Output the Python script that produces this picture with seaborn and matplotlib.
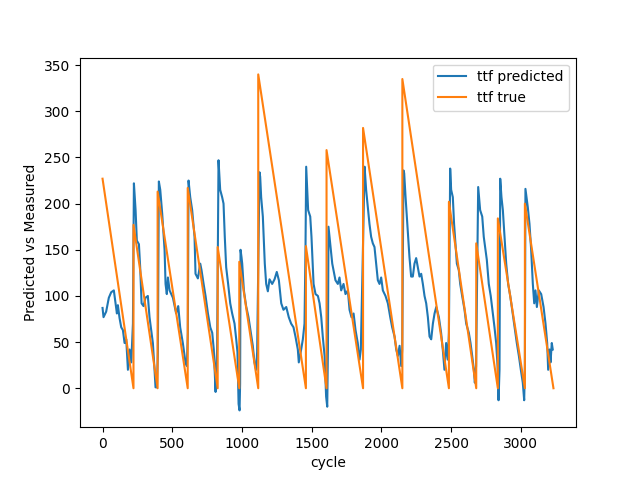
import matplotlib
matplotlib.use("Agg")
import matplotlib.pyplot as plt
import pandas as pd
import seaborn as sns

output_file = "out.png"

# predicted time-to-failure
pred_cycle = [
    0, 7, 26, 45, 62, 81, 93, 103, 110, 122, 134, 146, 158, 170, 182, 194, 206, 218, 225,
    237, 246, 261, 270, 280, 294, 308, 325, 337, 349, 361, 373, 380, 390, 397, 404,
    414, 428, 445, 452, 461, 469, 481, 493, 505, 528, 543, 557, 576, 595, 605, 612, 617,
    629, 643, 660, 667, 684, 701, 710, 725, 739, 756, 773, 787, 798, 811, 815, 822, 832,
    844, 858, 868, 877, 887, 901, 916, 930, 947, 959, 968, 976, 983, 987, 990,
    997, 1002, 1014, 1030, 1047, 1061, 1078, 1090, 1102, 1109, 1126,
    1131, 1138, 1150, 1164, 1174, 1186, 1198, 1217, 1234, 1250, 1265, 1282, 1298, 1318,
    1336, 1353, 1370, 1384, 1401, 1408, 1425, 1437, 1449, 1456, 1461,
    1475, 1490, 1499, 1514, 1528, 1545, 1557, 1569, 1580, 1593, 1604, 1612, 1617, 1621,
    1633, 1648, 1657, 1671, 1688, 1700, 1712, 1729, 1743, 1760, 1772, 1786, 1801, 1815,
    1831, 1844, 1853, 1863, 1880,
    1891, 1903, 1915, 1927, 1939, 1951, 1963, 1975, 1987, 1999, 2011, 2030, 2047, 2064,
    2078, 2095, 2107, 2119, 2131, 2143, 2150, 2159,
    2164, 2174, 2183, 2193, 2202, 2214, 2226, 2238, 2250, 2262, 2274, 2286, 2298, 2310,
    2322, 2334, 2346, 2358, 2370, 2382, 2394, 2413, 2429, 2441, 2453, 2465, 2477, 2485, 2494,
    2501, 2513, 2522, 2532, 2542, 2556, 2566, 2580, 2597, 2609, 2628, 2640, 2652, 2664,
    2671, 2680, 2695,
    2709, 2724, 2735, 2747, 2757, 2771, 2785, 2800, 2812, 2824, 2834, 2841, 2848, 2853,
    2862, 2872, 2884, 2896, 2910, 2925, 2939, 2956, 2972, 2987, 3001, 3015, 3025, 3030, 3034,
    3051, 3063, 3075, 3087, 3097, 3106, 3116, 3130, 3147, 3164, 3178, 3190, 3197, 3207,
    3214, 3223, 3230,
]
pred_ttf = [
    87, 77, 83, 98, 104, 106, 92, 81, 90, 76, 66, 63, 49, 53, 20, 42, 28, 70, 222,
    193, 160, 156, 131, 92, 89, 98, 100, 77, 63, 49, 20, 1, 1, 39, 224,
    215, 189, 150, 113, 102, 120, 106, 102, 98, 81, 89, 66, 49, 28, 24, 60, 225,
    207, 193, 164, 124, 119, 135, 128, 113, 100, 81, 66, 60, 42, -4, 20, 42, 247,
    215, 207, 200, 164, 131, 113, 92, 81, 70, 53, 39, -17, -24, 5, 150,
    142, 135, 106, 89, 77, 63, 46, 28, 20, 39, 234,
    229, 207, 186, 135, 113, 105, 118, 113, 118, 126, 117, 92, 85, 88,
    77, 70, 66, 56, 42, 28, 42, 53, 70, 150, 240,
    193, 186, 164, 113, 102, 100, 92, 77, 56, 35, -9, -20, 42, 175,
    157, 135, 128, 117, 113, 120, 106, 113, 102, 106, 85, 77, 81, 63,
    49, 31, 42, 113, 240,
    215, 196, 178, 164, 157, 153, 135, 117, 113, 120, 106, 100, 92, 77,
    66, 56, 42, 35, 46, 24, 42, 236,
    233, 207, 186, 164, 142, 121, 121, 135, 141, 131, 121, 124, 113, 100,
    92, 77, 56, 53, 70, 81, 88, 77, 60, 42, 20, 49, 31, 60, 238,
    215, 207, 178, 157, 135, 128, 113, 100, 85, 70, 60, 49, 35, 20,
    6, 24, 218,
    193, 186, 164, 150, 139, 113, 100, 81, 66, 49, 24, -13, 20, 227,
    207, 193, 164, 135, 113, 100, 85, 66, 49, 35, 20, 6, -13, 24, 216,
    196, 178, 150, 113, 92, 106, 88, 106, 102, 88, 70, 49, 20, 42,
    28, 49, 42,
]

# true time-to-failure (sawtooth vertices)
true_cycle = [0, 222, 222, 395, 395, 611, 611, 826, 826, 981, 981, 1117, 1117, 1459,
              1459, 1607, 1607, 1869, 1869, 2151, 2151, 2485, 2485, 2681, 2681, 2836,
              2836, 3030, 3030, 3235]
true_ttf = [227, 0, 177, 0, 213, 0, 217, 0, 153, 0, 137, 0, 340, 0,
            154, 0, 258, 0, 282, 0, 335, 0, 202, 0, 157, 0,
            184, 0, 200, 0]

if __name__ == "__main__":
    df_pred = pd.DataFrame({"cycle": pred_cycle, "ttf": pred_ttf})
    df_true = pd.DataFrame({"cycle": true_cycle, "ttf": true_ttf})

    fig, ax = plt.subplots(figsize=(6.4, 4.8), dpi=100)

    sns.lineplot(data=df_pred, x="cycle", y="ttf", ax=ax, color="tab:blue",
                 estimator=None, sort=False, label="ttf predicted")
    sns.lineplot(data=df_true, x="cycle", y="ttf", ax=ax, color="tab:orange",
                 estimator=None, sort=False, label="ttf true")

    ax.set_xlabel("cycle")
    ax.set_ylabel("Predicted vs Measured")
    ax.legend(loc="upper right")

    plt.savefig(output_file, dpi=100)
